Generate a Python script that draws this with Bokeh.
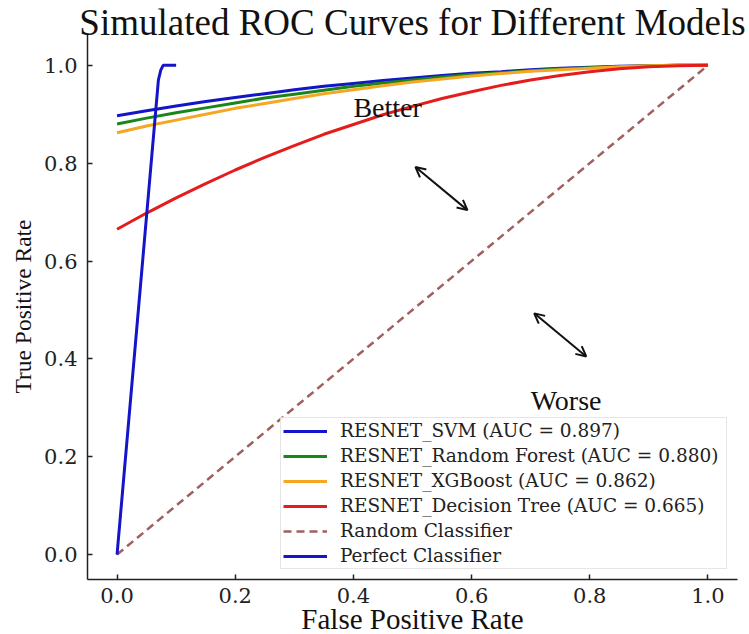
from bokeh.plotting import figure
from bokeh.models import (Label, Arrow, OpenHead, Legend, LegendItem, Range1d, Title,
                          PrintfTickFormatter, FixedTicker)
from bokeh.embed import file_html
from bokeh.resources import INLINE

# ---- data ----
fpr = [0.0, 0.05, 0.10, 0.15, 0.20, 0.25, 0.30, 0.35, 0.40, 0.45, 0.50,
       0.55, 0.60, 0.65, 0.70, 0.75, 0.80, 0.85, 0.90, 0.95, 1.0]
tpr_svm = [0.897, 0.907, 0.917, 0.926, 0.934, 0.942, 0.950, 0.957, 0.963, 0.969, 0.974,
           0.979, 0.984, 0.987, 0.991, 0.994, 0.996, 0.998, 0.999, 1.000, 1.0]
tpr_rf = [0.880, 0.892, 0.903, 0.913, 0.923, 0.933, 0.941, 0.949, 0.957, 0.964, 0.970,
          0.976, 0.981, 0.985, 0.989, 0.993, 0.995, 0.997, 0.999, 1.000, 1.0]
tpr_xgb = [0.862, 0.876, 0.888, 0.900, 0.912, 0.922, 0.932, 0.942, 0.950, 0.958, 0.966,
           0.972, 0.978, 0.983, 0.988, 0.991, 0.994, 0.997, 0.999, 1.000, 1.0]
tpr_dt = [0.665, 0.698, 0.729, 0.758, 0.786, 0.812, 0.836, 0.859, 0.879, 0.899, 0.916,
          0.932, 0.946, 0.959, 0.970, 0.979, 0.987, 0.993, 0.997, 0.999, 1.0]
random_x = [0.0, 1.0]
random_y = [0.0, 1.0]
perfect_x = [0.0, 0.070, 0.074, 0.078, 0.085, 0.10]
perfect_y = [0.0, 0.970, 0.990, 1.000, 1.000, 1.00]

model_names = ["RESNET_SVM", "RESNET_Random Forest", "RESNET_XGBoost", "RESNET_Decision Tree"]
model_auc = [0.897, 0.880, 0.862, 0.665]
tick_values = [0.0, 0.2, 0.4, 0.6, 0.8, 1.0]

colors = ["#1414c8", "#1a861a", "#f5a623", "#e51c1c"]
random_color = "#a0605f"

SERIF = "Liberation Serif"
DSERIF = "DejaVu Serif"

p = figure(width=749, height=634,
           x_range=Range1d(-0.05, 1.05), y_range=Range1d(-0.051, 1.065),
           output_backend="svg", toolbar_location=None,
           min_border_left=87, min_border_right=12, min_border_top=33, min_border_bottom=55)
p.outline_line_color = None
p.grid.visible = False
p.background_fill_color = "white"
p.border_fill_color = "white"

for ax in (p.xaxis[0], p.yaxis[0]):
    ax.ticker = FixedTicker(ticks=tick_values)
    ax.formatter = PrintfTickFormatter(format="%.1f")
    ax.minor_tick_line_color = None
    ax.major_tick_in = 5
    ax.major_tick_out = 0
    ax.major_tick_line_width = 1.5
    ax.major_tick_line_color = "#222222"
    ax.axis_line_width = 1.5
    ax.axis_line_color = "#222222"
    ax.major_label_text_font = DSERIF
    ax.major_label_text_font_size = "21px"
    ax.major_label_text_color = "#222222"
    ax.axis_label_text_font = SERIF
    ax.axis_label_text_font_style = "normal"
    ax.axis_label_text_color = "#111111"

p.yaxis.axis_label = "True Positive Rate"
p.yaxis.axis_label_text_font_size = "23.5px"
p.xaxis.major_label_standoff = 8
p.yaxis.major_label_standoff = 10
p.yaxis.axis_label_standoff = 5

# x-axis label as a title in the bottom panel (lets it sit close to the tick labels)
xlab = Title(text="False Positive Rate", align="center", vertical_align="middle",
             text_font=SERIF, text_font_style="normal", text_font_size="29px",
             text_color="#111111", standoff=-7)
p.add_layout(xlab, "below")

series = [tpr_svm, tpr_rf, tpr_xgb, tpr_dt]
items = []
for name, auc, ys, c in zip(model_names, model_auc, series, colors):
    r = p.line(fpr, ys, line_color=c, line_width=3)
    items.append(LegendItem(label=f"{name} (AUC = {auc:.3f})", renderers=[r]))

r_rand = p.line(random_x, random_y, line_color=random_color, line_width=2.5, line_dash="8 5")
items.append(LegendItem(label="Random Classifier", renderers=[r_rand]))
r_perf = p.line(perfect_x, perfect_y, line_color=colors[0], line_width=3)
items.append(LegendItem(label="Perfect Classifier", renderers=[r_perf]))

legend = Legend(items=items, location="bottom_right", margin=10,
                label_text_font=DSERIF, label_text_font_size="18.5px",
                label_text_color="#222222",
                glyph_width=44, glyph_height=20, label_height=20, label_width=384,
                label_standoff=13, spacing=4, padding=2,
                border_line_color="#cccccc", border_line_width=1.2,
                background_fill_color="white", background_fill_alpha=0.85)
p.add_layout(legend)

# annotations
p.add_layout(Label(x=0.4, y=0.913, text="Better", text_font=SERIF, text_font_size="28px",
                   text_color="#111111", text_align="left", text_baseline="alphabetic"))
p.add_layout(Label(x=0.7, y=0.314, text="Worse", text_font=SERIF, text_font_size="28px",
                   text_color="#111111", text_align="left", text_baseline="alphabetic"))
for (xs, ys, xe, ye) in [(0.505, 0.792, 0.593, 0.704), (0.706, 0.493, 0.794, 0.405)]:
    p.add_layout(Arrow(start=OpenHead(size=10, line_width=2, line_color="#111111"),
                       end=OpenHead(size=10, line_width=2, line_color="#111111"),
                       x_start=xs, y_start=ys, x_end=xe, y_end=ye,
                       line_width=2, line_color="#111111"))

# main title
p.title = Title(text="Simulated ROC Curves for Different Models", align="center",
                vertical_align="bottom", text_font=SERIF, text_font_style="normal",
                text_font_size="37px", text_color="#111111", standoff=-18)

open("out.html", "w").write(file_html(p, INLINE))
